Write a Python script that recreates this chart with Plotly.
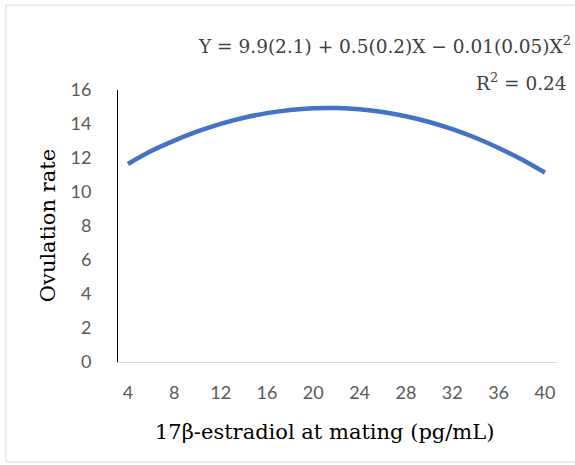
import plotly.graph_objects as go

# 17β-estradiol concentration at mating (pg/mL) and fitted ovulation rate
estradiol = [4, 6, 8, 10, 12, 14, 16, 18, 20, 22, 24, 26, 28, 30, 32, 34, 36, 38, 40]
ovulation_rate = [11.65, 12.41, 13.02, 13.56, 14.01, 14.37, 14.64, 14.83, 14.93, 14.94,
                  14.87, 14.71, 14.46, 14.12, 13.70, 13.19, 12.59, 11.91, 11.14]

x_ticks = [4, 8, 12, 16, 20, 24, 28, 32, 36, 40]
y_ticks = [0, 2, 4, 6, 8, 10, 12, 14, 16]

equation_text = "Y = 9.9(2.1) + 0.5(0.2)X − 0.01(0.05)X<sup>2</sup>"
r2_text = "R<sup>2</sup> = 0.24"

tick_font = dict(family="Lato", size=18, color="#595959")
serif = "DejaVu Serif"

fig = go.Figure()
fig.add_trace(go.Scatter(
    x=estradiol, y=ovulation_rate,
    mode="lines",
    line=dict(color="#4472C4", width=4.5, shape="spline"),
    showlegend=False,
    hoverinfo="skip",
))

fig.update_layout(
    width=575, height=465,
    margin=dict(l=118, r=18, t=90, b=103),
    paper_bgcolor="white",
    plot_bgcolor="white",
    xaxis=dict(
        range=[3.14, 41.04],
        tickvals=x_ticks,
        ticktext=[str(v) for v in x_ticks],
        tickfont=tick_font,
        showgrid=False, zeroline=False,
        showline=True, linecolor="#d9d9d9", linewidth=1,
        ticks="", ticklabelstandoff=14,
    ),
    yaxis=dict(
        range=[0, 16],
        tickvals=y_ticks,
        tickfont=tick_font,
        showgrid=False, zeroline=False,
        showline=True, linecolor="black", linewidth=1,
        ticks="", ticklabelstandoff=22,
    ),
    shapes=[dict(
        type="rect", xref="paper", yref="paper",
        x0=-0.2551, x1=1.06, y0=-0.3676, y1=1.3125,
        line=dict(color="#d9d9d9", width=1),
        fillcolor="rgba(0,0,0,0)",
        layer="below",
    )],
    annotations=[
        dict(text="17β-estradiol at mating (pg/mL)", xref="paper", yref="paper",
             x=0.470, y=-0.257, xanchor="center", yanchor="middle", showarrow=False,
             font=dict(family=serif, size=21, color="black")),
        dict(text="Ovulation rate", xref="paper", yref="paper",
             x=-0.159, y=0.5, xanchor="center", yanchor="middle", showarrow=False,
             textangle=-90,
             font=dict(family=serif, size=21, color="black")),
        dict(text=equation_text, xref="paper", yref="paper",
             x=1.037, y=1.165, xanchor="right", yanchor="middle", showarrow=False,
             font=dict(family=serif, size=18.5, color="#404040")),
        dict(text=r2_text, xref="paper", yref="paper",
             x=1.027, y=1.029, xanchor="right", yanchor="middle", showarrow=False,
             font=dict(family=serif, size=18.5, color="#404040")),
    ],
)

fig.write_html("out.html")
